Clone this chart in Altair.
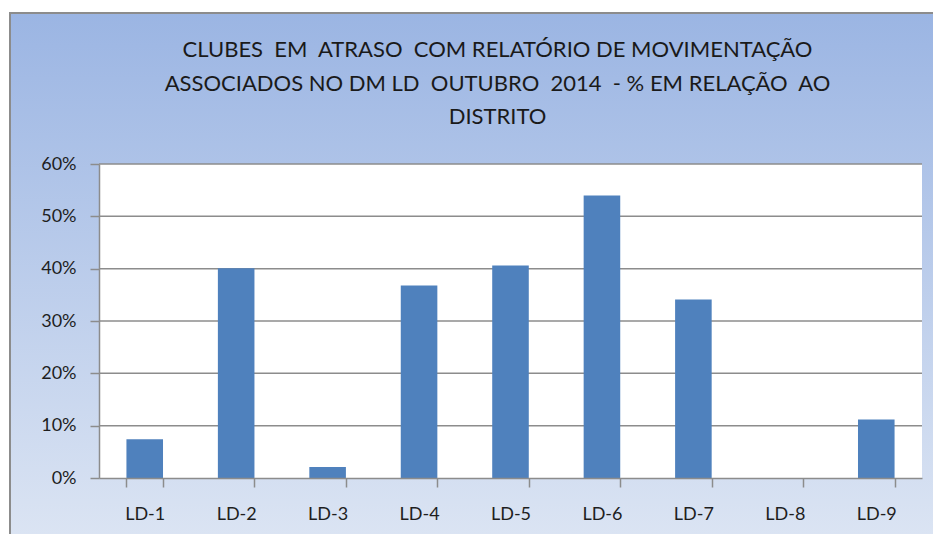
import altair as alt
import pandas as pd

categories = ["LD-1", "LD-2", "LD-3", "LD-4", "LD-5", "LD-6", "LD-7", "LD-8", "LD-9"]
values = [0.074, 0.401, 0.021, 0.368, 0.406, 0.540, 0.341, 0.0, 0.112]
y_ticks = [0.0, 0.1, 0.2, 0.3, 0.4, 0.5, 0.6]
title_lines = [
    "CLUBES\u00a0 EM\u00a0 ATRASO\u00a0 COM RELATÓRIO DE MOVIMENTAÇÃO",
    "ASSOCIADOS NO DM LD\u00a0 OUTUBRO\u00a0 2014\u00a0 - % EM RELAÇÃO\u00a0 AO",
    "DISTRITO",
]

W, H = 823, 314
FONT = "Lato"
TXT = "#1E1E1E"
GRID = "#8C8C8C"

df = pd.DataFrame({"cat": categories, "val": values})
grid_df = pd.DataFrame({"t": y_ticks[1:]})

yscale = alt.Scale(domain=[0, 0.6])
yaxis = alt.Axis(title=None, values=y_ticks, format=".0%", grid=False,
                 tickSize=9, tickColor=GRID, tickWidth=1.5,
                 domainColor=GRID, domainWidth=1.5,
                 labelFont=FONT, labelFontSize=18, labelColor=TXT,
                 labelPadding=14, zindex=1)

bg = alt.Chart(alt.Data(values=[{}])).mark_rect(
    fill=alt.LinearGradient(
        gradient="linear",
        stops=[alt.GradientStop(color="#9BB5E3", offset=0),
               alt.GradientStop(color="#DFE7F4", offset=1)],
        x1=0, x2=0, y1=0, y2=1),
    stroke="#8C8C8C", strokeWidth=2,
).encode(x=alt.value(-89), x2=alt.value(W + 40), y=alt.value(-151), y2=alt.value(H + 90))

plotbg = alt.Chart(alt.Data(values=[{}])).mark_rect(fill="white").encode(
    x=alt.value(0), x2=alt.value(W), y=alt.value(0), y2=alt.value(H))

grid = alt.Chart(grid_df).mark_rule(color=GRID, strokeWidth=1.5).encode(
    y=alt.Y("t:Q", scale=yscale, axis=yaxis))

bars = alt.Chart(df).mark_bar(color="#4F81BD").encode(
    x=alt.X("cat:N", sort=categories,
            scale=alt.Scale(paddingInner=0.6, paddingOuter=0.3),
            axis=alt.Axis(title=None, labelAngle=0, tickBand="extent",
                          tickSize=9, tickColor=GRID, tickWidth=1.5,
                          domainColor=GRID, domainWidth=1.5,
                          labelFont=FONT, labelFontSize=18, labelColor=TXT,
                          labelPadding=18, zindex=1)),
    y=alt.Y("val:Q", scale=yscale, axis=yaxis),
)

chart = alt.layer(bg, plotbg, grid, bars).properties(
    width=W, height=H,
    autosize=alt.AutoSizeParams(type="none"),
    padding={"left": 91, "top": 156, "right": 11, "bottom": 56},
    title=alt.TitleParams(text=title_lines, font=FONT, fontSize=22,
                          fontWeight="normal", color="#1A1A1A", lineHeight=33.5,
                          anchor="middle", frame="group", dx=-13, offset=-117,
                          zindex=1),
).configure_view(stroke=None).configure(background="white")

chart.save("out.html", embed_options={"renderer": "svg", "actions": False})
